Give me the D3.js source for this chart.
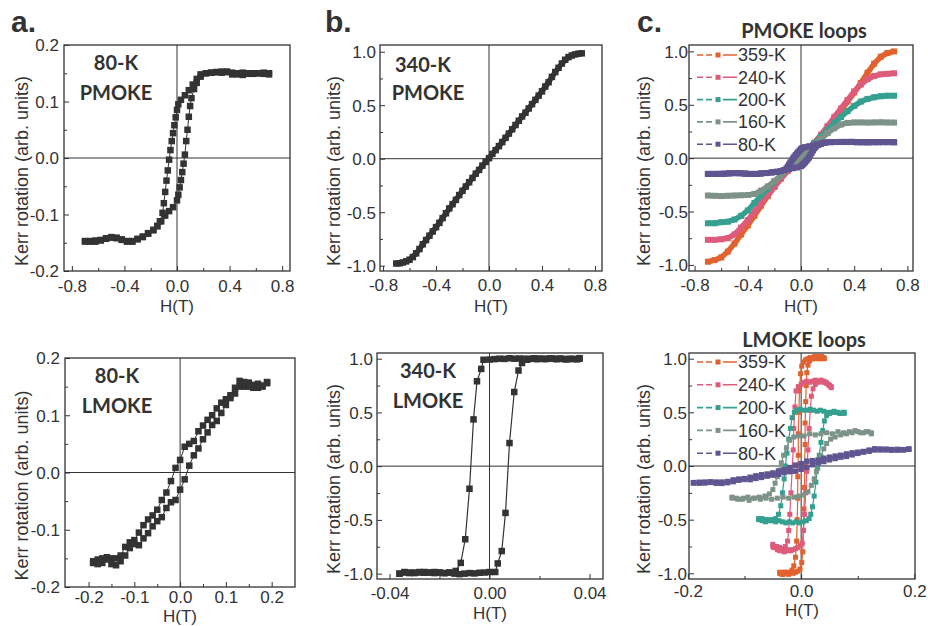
<!DOCTYPE html>
<html>
<head>
<meta charset="utf-8">
<title>MOKE loops</title>
<script src="https://cdn.jsdelivr.net/npm/d3@7"></script>
<style>
body { margin: 0; background: #fff; }
text { font-family: "Liberation Sans", Arial, sans-serif; }
.note { font-family: Lato, "Open Sans", sans-serif; font-weight: 700; fill: #333; }
</style>
</head>
<body>
<script>
'use strict'

const W = 928
const H = 626

// ---- data: [H (T), Kerr rotation] ----
// 80-K PMOKE (panel a, also the 80-K loop of panel c)
const aTopDown = [[0.70,0.150],[0.66,0.151],[0.62,0.150],[0.58,0.149],[0.54,0.150],[0.50,0.151],[0.46,0.150],[0.42,0.148],[0.38,0.152],[0.34,0.151],[0.30,0.152],[0.26,0.151],[0.22,0.150],[0.18,0.148],[0.15,0.140],[0.12,0.130],[0.09,0.120],[0.06,0.111],[0.03,0.103],[0.01,0.095],[0.00,0.085],[-0.01,0.072],[-0.02,0.058],[-0.03,0.044],[-0.04,0.030],[-0.05,0.014],[-0.06,-0.003],[-0.07,-0.022],[-0.08,-0.040],[-0.09,-0.060],[-0.10,-0.080],[-0.11,-0.097],[-0.13,-0.112],[-0.15,-0.121],[-0.18,-0.128],[-0.22,-0.133],[-0.26,-0.140],[-0.30,-0.144],[-0.34,-0.148],[-0.38,-0.148],[-0.42,-0.145],[-0.46,-0.142],[-0.50,-0.141],[-0.54,-0.143],[-0.58,-0.146],[-0.62,-0.148],[-0.66,-0.148],[-0.70,-0.147]]
const aTopUp = [[-0.70,-0.148],[-0.66,-0.147],[-0.62,-0.146],[-0.58,-0.145],[-0.54,-0.142],[-0.50,-0.140],[-0.46,-0.141],[-0.42,-0.144],[-0.38,-0.147],[-0.34,-0.147],[-0.30,-0.143],[-0.26,-0.139],[-0.22,-0.134],[-0.18,-0.127],[-0.15,-0.120],[-0.12,-0.112],[-0.09,-0.102],[-0.06,-0.094],[-0.03,-0.087],[0.00,-0.075],[0.01,-0.065],[0.02,-0.052],[0.03,-0.039],[0.04,-0.025],[0.05,-0.010],[0.06,0.006],[0.07,0.030],[0.08,0.050],[0.09,0.073],[0.10,0.092],[0.11,0.106],[0.13,0.122],[0.15,0.133],[0.18,0.144],[0.22,0.150],[0.26,0.151],[0.30,0.152],[0.34,0.153],[0.38,0.153],[0.42,0.151],[0.46,0.148],[0.50,0.147],[0.54,0.149],[0.58,0.150],[0.62,0.150],[0.66,0.149],[0.70,0.148]]

// 340-K PMOKE
const bTopUp = [[-0.70,-0.980],[-0.65,-0.970],[-0.60,-0.945],[-0.55,-0.885],[-0.50,-0.800],[-0.45,-0.720],[-0.40,-0.640],[-0.35,-0.555],[-0.30,-0.465],[-0.25,-0.385],[-0.20,-0.300],[-0.15,-0.220],[-0.10,-0.140],[-0.05,-0.065],[0.00,0.005],[0.05,0.080],[0.10,0.155],[0.15,0.235],[0.20,0.315],[0.25,0.395],[0.30,0.470],[0.35,0.550],[0.40,0.630],[0.45,0.715],[0.50,0.810],[0.55,0.890],[0.60,0.950],[0.65,0.975],[0.70,0.985]]
const bTopDown = [[0.675,0.982],[0.625,0.965],[0.575,0.925],[0.525,0.850],[0.475,0.765],[0.425,0.675],[0.375,0.590],[0.325,0.510],[0.275,0.430],[0.225,0.355],[0.175,0.275],[0.125,0.195],[0.075,0.118],[0.025,0.045],[-0.025,-0.030],[-0.075,-0.105],[-0.125,-0.180],[-0.175,-0.260],[-0.225,-0.340],[-0.275,-0.425],[-0.325,-0.510],[-0.375,-0.600],[-0.425,-0.680],[-0.475,-0.760],[-0.525,-0.845],[-0.575,-0.920],[-0.625,-0.960],[-0.675,-0.978]]

// 80-K LMOKE (panel a, also the 80-K loop of panel c)
const aBotUp = [[-0.19,-0.155],[-0.18,-0.160],[-0.17,-0.158],[-0.16,-0.152],[-0.15,-0.160],[-0.14,-0.162],[-0.13,-0.155],[-0.12,-0.145],[-0.11,-0.132],[-0.10,-0.125],[-0.09,-0.127],[-0.08,-0.115],[-0.07,-0.106],[-0.06,-0.094],[-0.05,-0.085],[-0.04,-0.078],[-0.03,-0.062],[-0.02,-0.052],[-0.01,-0.048],[0.00,-0.030],[0.01,-0.012],[0.02,0.012],[0.03,0.030],[0.04,0.042],[0.05,0.058],[0.06,0.070],[0.07,0.083],[0.08,0.090],[0.09,0.104],[0.10,0.118],[0.11,0.130],[0.12,0.138],[0.13,0.150],[0.14,0.158],[0.15,0.150],[0.16,0.148],[0.17,0.155],[0.18,0.150],[0.19,0.156]]
const aBotDown = [[0.19,0.158],[0.18,0.152],[0.17,0.148],[0.16,0.153],[0.15,0.157],[0.14,0.150],[0.13,0.160],[0.12,0.148],[0.11,0.135],[0.10,0.128],[0.09,0.122],[0.08,0.112],[0.07,0.100],[0.06,0.092],[0.05,0.082],[0.04,0.072],[0.03,0.055],[0.02,0.050],[0.01,0.045],[0.00,0.022],[-0.01,0.008],[-0.02,-0.015],[-0.03,-0.035],[-0.04,-0.048],[-0.05,-0.065],[-0.06,-0.075],[-0.07,-0.082],[-0.08,-0.092],[-0.09,-0.105],[-0.10,-0.118],[-0.11,-0.122],[-0.12,-0.130],[-0.13,-0.145],[-0.14,-0.150],[-0.15,-0.150],[-0.16,-0.148],[-0.17,-0.150],[-0.18,-0.152],[-0.19,-0.158]]

// 340-K LMOKE
const bBotDown = [[0.036,1.005],[0.034,0.998],[0.032,1.0],[0.030,0.995],[0.028,1.002],[0.026,0.998],[0.024,1.003],[0.022,0.996],[0.020,1.0],[0.018,1.004],[0.016,0.998],[0.014,1.0],[0.012,1.002],[0.010,1.0],[0.008,1.004],[0.006,0.998],[0.004,1.0],[0.002,0.996],[0.000,0.992],[-0.0024,0.99],[-0.0033,0.905],[-0.005,0.79],[-0.0064,0.435],[-0.008,-0.21],[-0.0097,-0.68],[-0.0115,-0.90],[-0.0135,-0.975],[-0.016,-0.99],[-0.018,-0.995],[-0.020,-0.99],[-0.022,-0.995],[-0.024,-0.99],[-0.026,-0.992],[-0.028,-0.985],[-0.030,-0.99],[-0.032,-0.995],[-0.034,-0.99],[-0.036,-1.0]]
const bBotUp = [[-0.036,-1.0],[-0.034,-0.985],[-0.032,-0.99],[-0.030,-0.995],[-0.028,-0.99],[-0.026,-0.985],[-0.024,-0.99],[-0.022,-0.985],[-0.020,-0.99],[-0.018,-0.995],[-0.016,-0.99],[-0.014,-1.0],[-0.012,-1.005],[-0.010,-1.0],[-0.008,-0.995],[-0.006,-0.998],[-0.004,-0.992],[-0.002,-0.99],[0.000,-0.985],[0.0023,-0.985],[0.0033,-0.905],[0.0049,-0.79],[0.0064,-0.435],[0.008,0.215],[0.0099,0.69],[0.0116,0.89],[0.013,0.96],[0.015,0.99],[0.017,1.0],[0.019,0.995],[0.021,1.0],[0.023,0.998],[0.025,1.003],[0.027,0.995],[0.029,1.0],[0.031,0.993],[0.033,0.997],[0.035,0.994],[0.036,1.0]]

// PMOKE loops, panel c
const p359 = [[-0.70,-0.970],[-0.65,-0.955],[-0.60,-0.930],[-0.55,-0.875],[-0.50,-0.800],[-0.45,-0.715],[-0.40,-0.630],[-0.35,-0.540],[-0.30,-0.445],[-0.25,-0.355],[-0.20,-0.270],[-0.15,-0.190],[-0.10,-0.120],[-0.05,-0.055],[0.00,0.005],[0.05,0.070],[0.10,0.140],[0.15,0.215],[0.20,0.290],[0.25,0.365],[0.30,0.445],[0.35,0.530],[0.40,0.615],[0.45,0.705],[0.50,0.800],[0.55,0.885],[0.60,0.950],[0.65,0.985],[0.70,1.000]]
const p240 = [[-0.70,-0.765],[-0.65,-0.765],[-0.60,-0.760],[-0.55,-0.750],[-0.50,-0.715],[-0.45,-0.650],[-0.40,-0.580],[-0.35,-0.500],[-0.30,-0.420],[-0.25,-0.345],[-0.20,-0.265],[-0.15,-0.190],[-0.10,-0.120],[-0.05,-0.055],[0.00,0.010],[0.05,0.075],[0.10,0.145],[0.15,0.220],[0.20,0.300],[0.25,0.385],[0.30,0.465],[0.35,0.545],[0.40,0.625],[0.45,0.690],[0.50,0.740],[0.55,0.770],[0.60,0.785],[0.65,0.790],[0.70,0.795]]
const p200 = [[-0.70,-0.610],[-0.65,-0.610],[-0.60,-0.600],[-0.55,-0.595],[-0.50,-0.575],[-0.45,-0.540],[-0.40,-0.490],[-0.35,-0.420],[-0.30,-0.350],[-0.25,-0.285],[-0.20,-0.220],[-0.15,-0.160],[-0.10,-0.100],[-0.05,-0.045],[0.00,0.015],[0.05,0.075],[0.10,0.135],[0.15,0.200],[0.20,0.265],[0.25,0.330],[0.30,0.385],[0.35,0.440],[0.40,0.490],[0.45,0.530],[0.50,0.555],[0.55,0.570],[0.60,0.580],[0.65,0.585],[0.70,0.585]]
const p160 = [[-0.70,-0.350],[-0.65,-0.352],[-0.60,-0.355],[-0.55,-0.352],[-0.50,-0.350],[-0.45,-0.348],[-0.40,-0.345],[-0.35,-0.335],[-0.30,-0.305],[-0.25,-0.265],[-0.20,-0.215],[-0.15,-0.160],[-0.10,-0.105],[-0.05,-0.050],[0.00,0.005],[0.05,0.060],[0.10,0.120],[0.15,0.180],[0.20,0.235],[0.25,0.280],[0.30,0.315],[0.35,0.330],[0.40,0.335],[0.45,0.335],[0.50,0.333],[0.55,0.335],[0.60,0.336],[0.65,0.334],[0.70,0.333]]

// LMOKE loops, panel c
const l359Down = [[0.040,1.01],[0.036,1.02],[0.032,1.00],[0.028,1.01],[0.024,1.02],[0.020,1.00],[0.016,1.01],[0.012,1.0],[0.008,0.99],[0.004,0.97],[0.001,0.93],[-0.001,0.86],[-0.003,0.70],[-0.004,0.50],[-0.005,0.30],[-0.005,0.10],[-0.006,-0.10],[-0.006,-0.30],[-0.007,-0.50],[-0.008,-0.70],[-0.010,-0.85],[-0.013,-0.93],[-0.016,-0.97],[-0.020,-0.99],[-0.024,-1.0],[-0.028,-0.99],[-0.032,-1.01],[-0.036,-1.0],[-0.038,-0.99]]
const l359Up = [[-0.038,-1.0],[-0.034,-1.01],[-0.030,-0.99],[-0.026,-1.0],[-0.022,-1.01],[-0.018,-0.99],[-0.014,-1.0],[-0.010,-0.99],[-0.006,-0.98],[-0.002,-0.96],[0.001,-0.90],[0.003,-0.80],[0.004,-0.60],[0.005,-0.40],[0.006,-0.20],[0.006,0.0],[0.007,0.20],[0.007,0.40],[0.008,0.60],[0.009,0.75],[0.010,0.87],[0.012,0.94],[0.015,0.98],[0.018,1.0],[0.022,1.01],[0.026,1.0],[0.030,1.02],[0.034,1.0],[0.038,1.01],[0.041,1.0]]
const l240Down = [[0.053,0.74],[0.048,0.76],[0.044,0.78],[0.040,0.79],[0.035,0.80],[0.030,0.79],[0.025,0.80],[0.020,0.79],[0.015,0.78],[0.010,0.79],[0.005,0.78],[0.000,0.76],[-0.005,0.74],[-0.009,0.70],[-0.011,0.55],[-0.013,0.35],[-0.014,0.15],[-0.016,-0.05],[-0.018,-0.25],[-0.020,-0.45],[-0.022,-0.60],[-0.024,-0.70],[-0.028,-0.75],[-0.033,-0.77],[-0.038,-0.76],[-0.043,-0.75],[-0.048,-0.76],[-0.050,-0.75]]
const l240Up = [[-0.050,-0.73],[-0.046,-0.76],[-0.042,-0.78],[-0.038,-0.79],[-0.034,-0.78],[-0.030,-0.80],[-0.026,-0.79],[-0.022,-0.78],[-0.018,-0.79],[-0.014,-0.78],[-0.010,-0.77],[-0.006,-0.76],[-0.002,-0.74],[0.002,-0.72],[0.004,-0.60],[0.006,-0.45],[0.008,-0.25],[0.010,-0.05],[0.012,0.15],[0.014,0.35],[0.016,0.52],[0.018,0.65],[0.021,0.72],[0.025,0.76],[0.030,0.78],[0.035,0.79],[0.040,0.78],[0.045,0.77],[0.050,0.75],[0.053,0.73]]
const l200Down = [[0.076,0.50],[0.070,0.49],[0.064,0.50],[0.058,0.51],[0.052,0.50],[0.046,0.50],[0.040,0.51],[0.034,0.52],[0.028,0.51],[0.022,0.52],[0.016,0.53],[0.010,0.52],[0.004,0.52],[-0.002,0.53],[-0.008,0.52],[-0.012,0.50],[-0.016,0.45],[-0.019,0.35],[-0.022,0.25],[-0.025,0.12],[-0.028,0.0],[-0.030,-0.12],[-0.033,-0.25],[-0.036,-0.37],[-0.040,-0.45],[-0.045,-0.49],[-0.051,-0.50],[-0.057,-0.51],[-0.063,-0.50],[-0.069,-0.49],[-0.075,-0.50]]
const l200Up = [[-0.075,-0.49],[-0.069,-0.51],[-0.063,-0.52],[-0.057,-0.50],[-0.051,-0.51],[-0.045,-0.52],[-0.039,-0.51],[-0.033,-0.52],[-0.027,-0.53],[-0.021,-0.52],[-0.015,-0.53],[-0.009,-0.52],[-0.003,-0.53],[0.003,-0.52],[0.009,-0.51],[0.014,-0.49],[0.017,-0.45],[0.020,-0.38],[0.023,-0.28],[0.026,-0.15],[0.029,-0.02],[0.032,0.10],[0.035,0.22],[0.038,0.33],[0.041,0.42],[0.045,0.47],[0.050,0.49],[0.056,0.50],[0.062,0.50],[0.068,0.49],[0.074,0.50],[0.076,0.49]]
const l160Down = [[0.124,0.30],[0.115,0.32],[0.105,0.31],[0.095,0.33],[0.085,0.32],[0.075,0.31],[0.065,0.32],[0.055,0.30],[0.045,0.31],[0.035,0.30],[0.025,0.29],[0.015,0.30],[0.005,0.28],[-0.005,0.28],[-0.013,0.27],[-0.020,0.24],[-0.026,0.17],[-0.031,0.10],[-0.035,0.03],[-0.038,-0.04],[-0.042,-0.10],[-0.046,-0.16],[-0.050,-0.22],[-0.056,-0.26],[-0.064,-0.28],[-0.074,-0.29],[-0.084,-0.30],[-0.094,-0.29],[-0.104,-0.31],[-0.114,-0.30],[-0.122,-0.29]]
const l160Up = [[-0.122,-0.30],[-0.112,-0.31],[-0.102,-0.30],[-0.092,-0.32],[-0.082,-0.30],[-0.072,-0.31],[-0.062,-0.30],[-0.052,-0.31],[-0.042,-0.30],[-0.032,-0.29],[-0.022,-0.30],[-0.012,-0.29],[-0.004,-0.28],[0.004,-0.27],[0.012,-0.24],[0.018,-0.18],[0.023,-0.12],[0.027,-0.05],[0.031,0.02],[0.035,0.09],[0.040,0.16],[0.045,0.21],[0.052,0.25],[0.060,0.27],[0.070,0.29],[0.080,0.30],[0.090,0.31],[0.100,0.32],[0.110,0.31],[0.118,0.32],[0.124,0.31]]

const temps = ['359-K', '240-K', '200-K', '160-K', '80-K']
const tempColors = ['#e2622f', '#dd5b7b', '#35a08f', '#7e9388', '#5f5591']

// tick values
const ticksWide = [-0.8, -0.4, 0, 0.4, 0.8]
const ticksWideMinor = [-0.6, -0.2, 0.2, 0.6]
const ticksSmall = [-0.2, -0.1, 0, 0.1, 0.2]
const ticksSmallMinor = [-0.15, -0.05, 0.05, 0.15]
const ticksUnit = [-1, -0.5, 0, 0.5, 1]
const ticksUnitMinor = [-0.75, -0.25, 0.25, 0.75]
const ticksNarrow = [-0.04, 0, 0.04]
const ticksNarrowMinor = [-0.02, 0.02]
const ticksC = [-0.2, 0, 0.2]
const ticksCMinor = [-0.1, 0.1]

const dark = '#333'
const fmt = p => (d => d3.format(p)(d).replace('\u2212', '-'))

const svg = d3.select('body').append('svg')
  .attr('width', W)
  .attr('height', H)

function drawPanel(p) {
  const [x0, y0, x1, y1] = p.box
  const x = d3.scaleLinear().domain(p.xDom).range([x0, x1])
  const y = d3.scaleLinear().domain(p.yDom).range([y1, y0])
  const g = svg.append('g')

  svg.append('clipPath').attr('id', 'clip-' + p.id)
    .append('rect')
    .attr('x', x0).attr('y', y0)
    .attr('width', x1 - x0).attr('height', y1 - y0)

  // zero lines
  g.append('line')
    .attr('x1', x(0)).attr('x2', x(0)).attr('y1', y0).attr('y2', y1)
    .attr('stroke', dark).attr('stroke-width', 1)
  g.append('line')
    .attr('x1', x0).attr('x2', x1).attr('y1', y(0)).attr('y2', y(0))
    .attr('stroke', dark).attr('stroke-width', 1)

  const plot = g.append('g').attr('clip-path', `url(#clip-${p.id})`)
  const line = d3.line().x(d => x(d[0])).y(d => y(d[1]))
  p.series.forEach(s => {
    s.parts.forEach(data => {
      plot.append('path')
        .datum(data)
        .attr('d', line)
        .attr('fill', 'none')
        .attr('stroke', s.color)
        .attr('stroke-width', s.lw)
        .attr('stroke-linejoin', 'round')
      plot.append('g').selectAll('rect')
        .data(data)
        .enter()
        .append('rect')
        .attr('x', d => x(d[0]) - s.size / 2)
        .attr('y', d => y(d[1]) - s.size / 2)
        .attr('width', s.size)
        .attr('height', s.size)
        .attr('fill', s.color)
    })
  })

  // frame
  g.append('rect')
    .attr('x', x0).attr('y', y0)
    .attr('width', x1 - x0).attr('height', y1 - y0)
    .attr('fill', 'none').attr('stroke', dark).attr('stroke-width', 1.3)

  // axes, ticks pointing inwards
  const xa = g.append('g').attr('transform', `translate(0,${y1})`)
    .call(d3.axisBottom(x).tickValues(p.xMaj).tickSize(-5).tickSizeOuter(0).tickFormat(fmt(p.xFmt)))
  xa.select('.domain').remove()
  xa.attr('font-size', 17).attr('font-family', '"Liberation Sans", Arial, sans-serif').attr('color', dark)
  xa.selectAll('text').attr('y', p.xLab).attr('dy', null)
  const xm = g.append('g').attr('transform', `translate(0,${y1})`)
    .call(d3.axisBottom(x).tickValues(p.xMin).tickSize(-3).tickSizeOuter(0).tickFormat(''))
  xm.select('.domain').remove()
  xm.attr('color', dark)

  const ya = g.append('g').attr('transform', `translate(${x0},0)`)
    .call(d3.axisLeft(y).tickValues(p.yMaj).tickSize(-5).tickSizeOuter(0).tickPadding(p.yGap).tickFormat(fmt(p.yFmt)))
  ya.select('.domain').remove()
  ya.attr('font-size', 17).attr('font-family', '"Liberation Sans", Arial, sans-serif').attr('color', dark)
  ya.selectAll('text').attr('dy', '0.35em')
  const ym = g.append('g').attr('transform', `translate(${x0},0)`)
    .call(d3.axisLeft(y).tickValues(p.yMin).tickSize(-3).tickSizeOuter(0).tickFormat(''))
  ym.select('.domain').remove()
  ym.attr('color', dark)

  // axis titles
  g.append('text')
    .attr('x', (x0 + x1) / 2)
    .attr('y', p.xTitle)
    .attr('text-anchor', 'middle')
    .attr('font-size', 17)
    .attr('fill', dark)
    .text('H(T)')
  g.append('text')
    .attr('transform', `translate(${p.yTitle},${(y0 + y1) / 2 + 13}) rotate(-90)`)
    .attr('text-anchor', 'middle')
    .attr('dy', '0.35em')
    .attr('font-size', 18)
    .attr('fill', dark)
    .text('Kerr rotation (arb. units)')

  // notes inside the frame
  ;(p.notes || []).forEach(n => {
    g.append('text')
      .attr('class', 'note')
      .attr('x', n[1]).attr('y', n[2])
      .attr('text-anchor', 'middle')
      .attr('font-size', 20)
      .text(n[0])
  })

  if (p.legend) {
    const lg = g.append('g')
    temps.forEach((t, i) => {
      const ly = p.legend.y + i * p.legend.step
      lg.append('line')
        .attr('x1', 697).attr('x2', 737).attr('y1', ly).attr('y2', ly)
        .attr('stroke', tempColors[i]).attr('stroke-width', 1.6)
        .attr('stroke-dasharray', '6,3,6,11,14')
      lg.append('rect')
        .attr('x', 715.5).attr('y', ly - 2.5)
        .attr('width', 5).attr('height', 5)
        .attr('fill', tempColors[i])
      lg.append('text')
        .attr('x', 738).attr('y', ly)
        .attr('dy', '0.35em')
        .attr('font-size', 18)
        .attr('fill', dark)
        .text(t)
    })
  }
}

const blk = (parts, size, lw) => ({ parts, color: dark, size, lw })
const col = (i, parts, size, lw) => ({ parts, color: tempColors[i], size, lw })

const panels = [
  { id: 'aTop', box: [64, 45, 290, 271], xDom: [-0.86, 0.86], yDom: [-0.2, 0.2],
    xMaj: ticksWide, xMin: ticksWideMinor, xFmt: '.1f', xLab: 21,
    yMaj: ticksSmall, yMin: ticksSmallMinor, yFmt: '.1f', yGap: 5,
    xTitle: 312, yTitle: 22,
    notes: [['80-K', 116, 70], ['PMOKE', 116, 100]],
    series: [blk([aTopDown, aTopUp], 6.5, 1)] },
  { id: 'bTop', box: [380, 45, 602, 271], xDom: [-0.823, 0.853], yDom: [-1.05, 1.063],
    xMaj: ticksWide, xMin: ticksWideMinor, xFmt: '.1f', xLab: 20,
    yMaj: ticksUnit, yMin: ticksUnitMinor, yFmt: '.1f', yGap: 4,
    xTitle: 312, yTitle: 334,
    notes: [['340-K', 423, 72], ['PMOKE', 428, 100]],
    series: [blk([bTopDown, bTopUp], 6.5, 5)] },
  { id: 'cTop', box: [689, 45, 913, 271], xDom: [-0.842, 0.842], yDom: [-1.057, 1.06],
    xMaj: ticksWide, xMin: ticksWideMinor, xFmt: '.1f', xLab: 20,
    yMaj: ticksUnit, yMin: ticksUnitMinor, yFmt: '.1f', yGap: 1,
    xTitle: 312, yTitle: 644,
    legend: { y: 55, step: 22.3 },
    series: [col(0, [p359], 6, 5.5), col(1, [p240], 6, 5.5), col(2, [p200], 6, 5.5),
      col(3, [p160], 6, 5.5), col(4, [aTopDown, aTopUp], 6, 5.5)] },
  { id: 'aBot', box: [65, 358, 295, 587], xDom: [-0.2515, 0.251], yDom: [-0.2, 0.2],
    xMaj: ticksSmall, xMin: ticksSmallMinor, xFmt: '.1f', xLab: 16,
    yMaj: ticksSmall, yMin: ticksSmallMinor, yFmt: '.1f', yGap: 5,
    xTitle: 621.5, yTitle: 22,
    notes: [['80-K', 117, 383], ['LMOKE', 117, 413]],
    series: [blk([aBotDown, aBotUp], 6.5, 1)] },
  { id: 'bBot', box: [377, 353, 603, 579], xDom: [-0.045, 0.0454], yDom: [-1.05, 1.053],
    xMaj: ticksNarrow, xMin: ticksNarrowMinor, xFmt: '.2f', xLab: 20,
    yMaj: ticksUnit, yMin: ticksUnitMinor, yFmt: '.1f', yGap: 4,
    xTitle: 619, yTitle: 334,
    notes: [['340-K', 428, 378], ['LMOKE', 428, 408]],
    series: [blk([bBotDown, bBotUp], 6.5, 1.2)] },
  { id: 'cBot', box: [689, 353, 915, 579], xDom: [-0.198, 0.201], yDom: [-1.053, 1.053],
    xMaj: ticksC, xMin: ticksCMinor, xFmt: '.1f', xLab: 18,
    yMaj: ticksUnit, yMin: ticksUnitMinor, yFmt: '.1f', yGap: 2,
    xTitle: 616, yTitle: 644,
    legend: { y: 362, step: 22.8 },
    series: [col(0, [l359Down, l359Up], 5, 1.2), col(1, [l240Down, l240Up], 5, 1.2),
      col(2, [l200Down, l200Up], 5, 1.2), col(3, [l160Down, l160Up], 5, 1.2),
      col(4, [aBotDown, aBotUp], 5.5, 1.2)] }
]

panels.forEach(drawPanel)

// panel letters and titles
;[['a.', 11], ['b.', 325], ['c.', 637]].forEach(l => {
  svg.append('text')
    .attr('x', l[1]).attr('y', 32)
    .attr('font-size', 30)
    .attr('font-weight', 'bold')
    .attr('fill', dark)
    .text(l[0])
})
svg.append('text').attr('class', 'note')
  .attr('x', 804).attr('y', 38)
  .attr('text-anchor', 'middle').attr('font-size', 20)
  .text('PMOKE loops')
svg.append('text').attr('class', 'note')
  .attr('x', 804).attr('y', 347)
  .attr('text-anchor', 'middle').attr('font-size', 20)
  .text('LMOKE loops')
</script>
</body>
</html>
